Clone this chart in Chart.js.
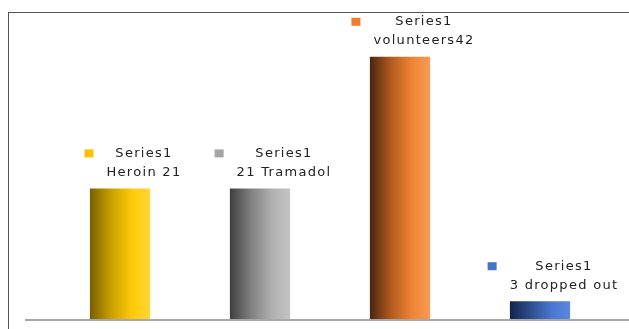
<!DOCTYPE html>
<html>
<head>
<meta charset="utf-8">
<script src="https://cdn.jsdelivr.net/npm/chart.js@4/dist/chart.umd.min.js"></script>
<style>
  html, body { margin: 0; padding: 0; background: #fff; }
  #wrap { position: relative; width: 629px; height: 329px; }
  #frame {
    position: absolute; left: 8px; top: 12px; right: 0; bottom: 0;
    border-left: 1px solid #555; border-top: 1px solid #555;
    pointer-events: none;
  }
</style>
</head>
<body>
<div id="wrap">
  <canvas id="myChart" width="629" height="329"></canvas>
  <div id="frame"></div>
</div>
<script>
// data
const seriesName = "Series1";
const categories = ["Heroin 21", "21 Tramadol", "volunteers42", "3 dropped out"];
const values = [21, 21, 42, 3];

// colours per bar: key colour + gradient stops (left dark -> right light)
const keyColors = ["#ffc000", "#a5a5a5", "#ed7d31", "#4472c4"];
const gradStops = [
  ["#7a5e00", "#c9a000", "#ffca0a", "#ffd633"],
  ["#3e3e3e", "#808080", "#b0b0b0", "#c4c4c4"],
  ["#4a2610", "#b25a1e", "#f08434", "#f79a55"],
  ["#142447", "#2d4f8e", "#4a78d0", "#5a88e0"],
];

const barPct = 0.43;

function barFill(context) {
  const chart = context.chart;
  const { ctx, chartArea } = chart;
  if (!chartArea) return keyColors[context.dataIndex];
  const xs = chart.scales.x;
  const cx = xs.getPixelForValue(context.dataIndex);
  const half = (xs.width / categories.length) * barPct / 2;
  const g = ctx.createLinearGradient(cx - half, 0, cx + half, 0);
  const st = gradStops[context.dataIndex];
  g.addColorStop(0, st[0]);
  g.addColorStop(0.35, st[1]);
  g.addColorStop(0.7, st[2]);
  g.addColorStop(1, st[3]);
  return g;
}

// baseline + data labels with legend key
const labelPlugin = {
  id: "labelPlugin",
  afterDatasetsDraw(chart) {
    const ctx = chart.ctx;
    const y0 = chart.scales.y.getPixelForValue(0);
    ctx.save();
    ctx.strokeStyle = "#a8a8a8";
    ctx.lineWidth = 2;
    ctx.beginPath();
    ctx.moveTo(25, y0);
    ctx.lineTo(chart.width, y0);
    ctx.stroke();

    ctx.font = "13px 'DejaVu Sans'";
    ctx.letterSpacing = "1.3px";
    ctx.fillStyle = "#222";
    ctx.textAlign = "center";
    ctx.textBaseline = "middle";
    const meta = chart.getDatasetMeta(0);
    meta.data.forEach(function (bar, i) {
      const tx = bar.x + 24;
      const line2 = bar.y - 16;
      const line1 = line2 - 19;
      ctx.fillStyle = "#222";
      ctx.fillText(seriesName, tx, line1);
      ctx.fillText(categories[i], tx, line2);
      const w = Math.max(ctx.measureText(seriesName).width, ctx.measureText(categories[i]).width);
      const left = tx - w / 2;
      ctx.fillStyle = keyColors[i];
      ctx.fillRect(left - 22, line1 - 4, 9, 8);
    });
    ctx.restore();
  },
};

const ctx = document.getElementById("myChart");
const myChart = new Chart(ctx, {
  type: "bar",
  data: {
    labels: categories,
    datasets: [
      {
        label: seriesName,
        data: values,
        backgroundColor: barFill,
        borderWidth: 0,
        barPercentage: barPct,
        categoryPercentage: 1,
      },
    ],
  },
  options: {
    responsive: false,
    animation: false,
    layout: { padding: { left: 50, right: 19, top: 38, bottom: 9 } },
    plugins: { legend: { display: false }, tooltip: { enabled: false } },
    scales: {
      x: { display: false },
      y: { display: false, min: 0, max: 45 },
    },
  },
  plugins: [labelPlugin],
});
</script>
</body>
</html>
